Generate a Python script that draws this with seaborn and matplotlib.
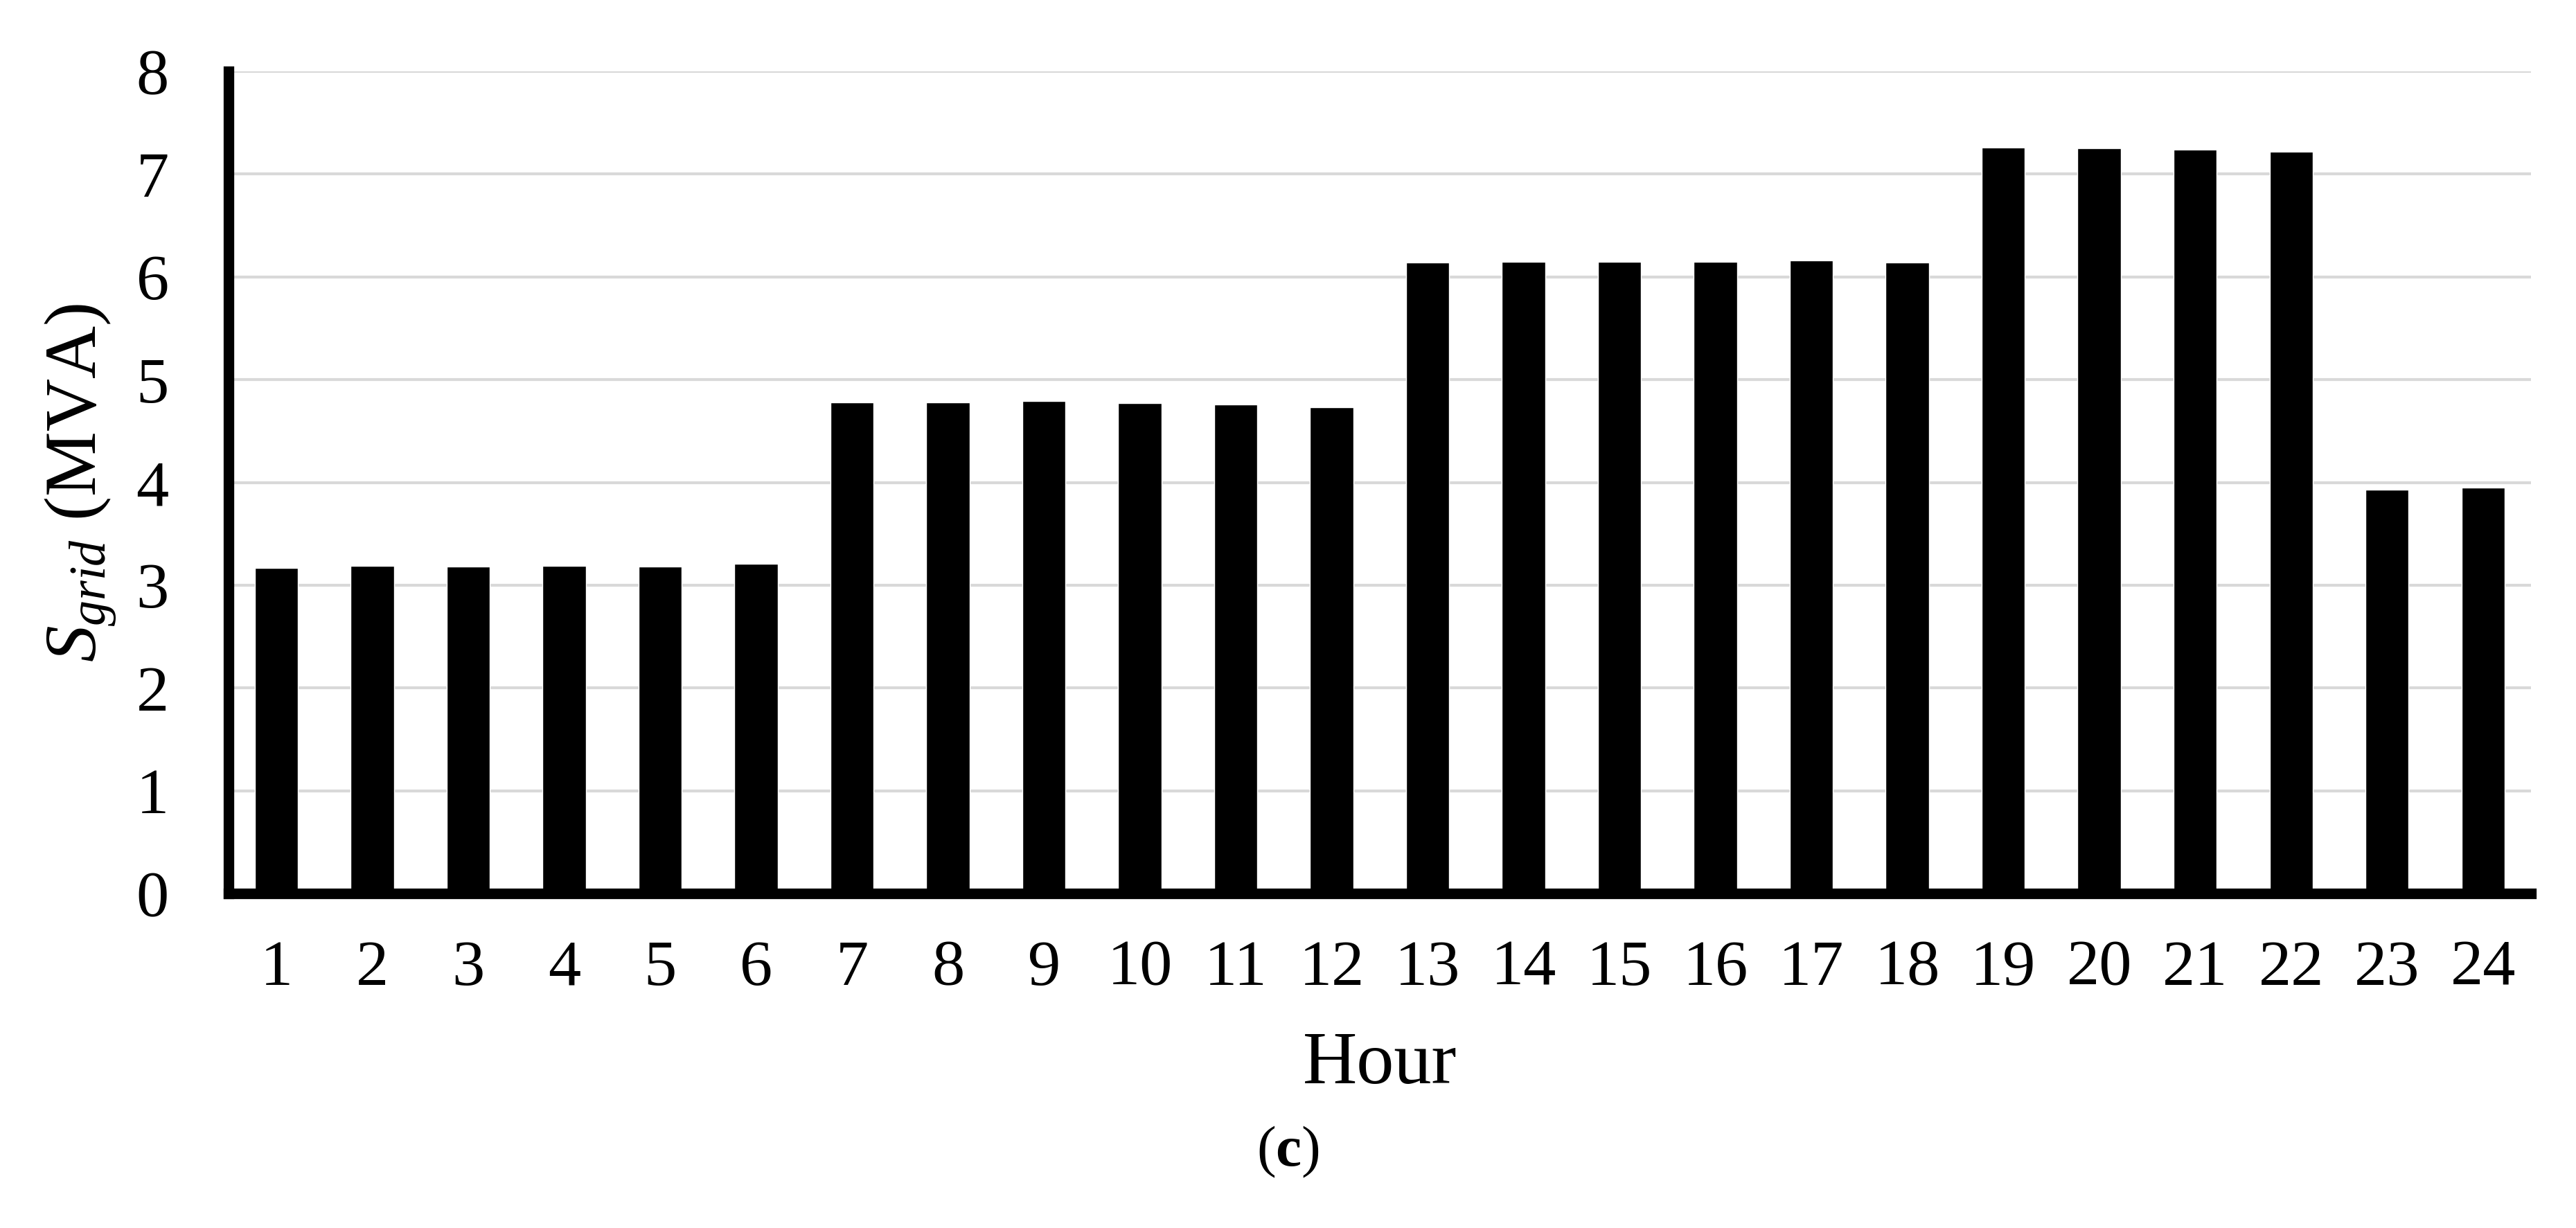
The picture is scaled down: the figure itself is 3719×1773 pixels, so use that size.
import matplotlib
matplotlib.use('Agg')
import matplotlib.pyplot as plt
import seaborn as sns
import pandas as pd

# hourly apparent power drawn from the grid
hours = list(range(1, 25))
s_grid = [3.17, 3.19, 3.18, 3.19, 3.18, 3.21,
          4.78, 4.78, 4.79, 4.77, 4.76, 4.73,
          6.14, 6.15, 6.15, 6.15, 6.16, 6.14,
          7.26, 7.25, 7.24, 7.22, 3.93, 3.95]

df = pd.DataFrame({'Hour': [str(h) for h in hours], 'S': s_grid})

sns.set_style('white')
plt.rcParams['font.family'] = ['Liberation Serif', 'DejaVu Serif']
plt.rcParams['mathtext.fontset'] = 'custom'
plt.rcParams['mathtext.rm'] = 'Liberation Serif'
plt.rcParams['mathtext.it'] = 'Liberation Serif:italic'
plt.rcParams['mathtext.bf'] = 'Liberation Serif:bold'
plt.rcParams['text.color'] = 'black'
plt.rcParams['axes.labelcolor'] = 'black'
plt.rcParams['xtick.color'] = 'black'
plt.rcParams['ytick.color'] = 'black'

fig = plt.figure(figsize=(37.19, 17.73), dpi=100)
ax = fig.add_axes([0.0887, 0.2724, 0.8938, 0.6695])

sns.barplot(data=df, x='Hour', y='S', color='black', width=0.45,
            saturation=1, ax=ax, zorder=3)

ax.set_ylim(0, 8)
ax.set_yticks(range(0, 9))
ax.yaxis.grid(True, color='#d9d9d9', linewidth=3, zorder=0)
ax.set_axisbelow(True)

for side in ['top', 'right']:
    ax.spines[side].set_visible(False)
for side in ['left', 'bottom']:
    ax.spines[side].set_color('black')
    ax.spines[side].set_linewidth(11)
    ax.spines[side].set_zorder(4)

ax.tick_params(axis='x', length=0, pad=48, labelsize=68)
ax.tick_params(axis='y', length=0, pad=62, labelsize=68)

ax.set_xlabel('Hour', fontsize=78, labelpad=34)
ax.set_ylabel('$S_{grid}$ (MVA)', fontsize=76, labelpad=18)

fig.text(0.5, 0.062, r'($\mathbf{c}$)', ha='center', va='center', fontsize=60)

fig.savefig('out.png', dpi=100)
